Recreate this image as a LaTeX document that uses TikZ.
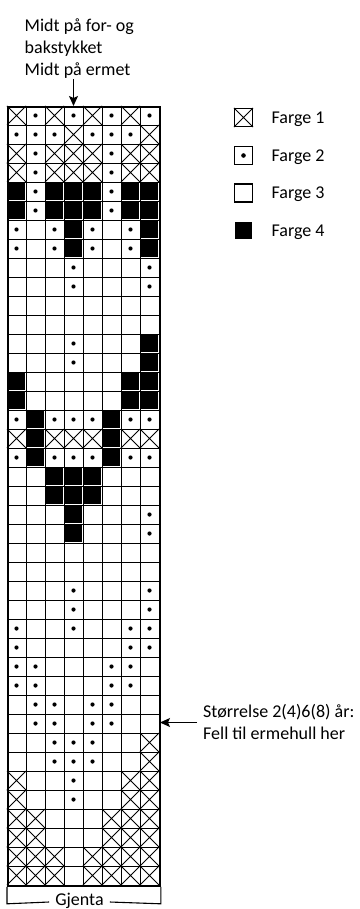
\documentclass[tikz,border=0pt]{standalone}
\usepackage{fontspec}
\setmainfont{Carlito}
\usetikzlibrary{arrows.meta}
\begin{document}
\begin{tikzpicture}[x=1pt,y=-1pt,
  txt/.style={font=\fontsize{18pt}{21.7pt}\selectfont, inner sep=0pt},
  gridline/.style={line width=0.9pt},
  xline/.style={line width=0.9pt},
  legbox/.style={draw, line width=1.1pt, minimum size=18pt, inner sep=0pt},
  legfill/.style={fill=black, minimum size=16.5pt, inner sep=0pt},
  arr/.style={line width=1.2pt, -{Stealth[length=10pt,width=9pt,inset=2pt]}},
  brk/.style={line width=1.1pt}]
\useasboundingbox (0,0) rectangle (359,909);
% grid lines
\foreach \j in {1,...,7} \draw[gridline] ({7+19*\j},106) -- ({7+19*\j},885);
\foreach \i in {1,...,40} \draw[gridline] (7,{106+19*\i}) -- (159,{106+19*\i});
% cells
\foreach \row [count=\i] in {
{X,D,X,D,X,D,X,D},
{D,D,D,X,D,D,D,X},
{X,D,X,X,X,D,X,X},
{X,D,X,X,X,D,X,X},
{B,D,B,B,B,D,B,B},
{B,D,B,B,B,D,B,B},
{D,O,D,B,D,O,D,B},
{D,O,D,B,D,O,D,B},
{O,O,O,D,O,O,O,D},
{O,O,O,D,O,O,O,D},
{O,O,O,O,O,O,O,O},
{O,O,O,O,O,O,O,O},
{O,O,O,D,O,O,O,B},
{O,O,O,D,O,O,O,B},
{B,O,O,O,O,O,B,B},
{B,O,O,O,O,O,B,B},
{D,B,D,D,D,B,D,D},
{X,B,X,X,X,B,X,X},
{D,B,D,D,D,B,D,D},
{O,O,B,B,B,O,O,O},
{O,O,B,B,B,O,O,O},
{O,O,O,B,O,O,O,D},
{O,O,O,B,O,O,O,D},
{O,O,O,O,O,O,O,O},
{O,O,O,O,O,O,O,O},
{O,O,O,D,O,O,O,D},
{O,O,O,D,O,O,O,D},
{D,O,O,D,O,O,D,D},
{D,O,O,O,O,O,D,D},
{D,D,O,O,O,D,D,O},
{D,D,O,O,O,D,D,O},
{O,D,D,O,D,D,O,O},
{O,D,D,O,D,D,O,O},
{O,O,D,D,D,O,O,X},
{O,O,D,D,D,O,O,X},
{X,O,O,D,O,O,X,X},
{X,O,O,D,O,O,X,X},
{X,X,O,O,O,X,X,X},
{X,X,O,O,O,X,X,X},
{X,X,X,O,X,X,X,X},
{X,X,X,O,X,X,X,X}}{
  \foreach \cl [count=\j] in \row {
    \pgfmathsetmacro\cx{19*\j-2.5}
    \pgfmathsetmacro\cy{19*\i+96.5}
    \if B\cl \fill[black] (\cx,\cy) ++(-8.7,-8.7) rectangle ++(17.4,17.4); \fi
    \if X\cl \draw[xline] (\cx,\cy) ++(-9.5,-9.5) -- ++(19,19) ++(0,-19) -- ++(-19,19); \fi
    \if D\cl \fill (\cx,\cy) circle[radius=2.1pt]; \fi
  }
}
% outer border
\node[draw, line width=1.8pt, minimum width=152pt, minimum height=779pt, inner sep=0pt, anchor=north west] (grid) at (7,106) {};
% top label
\node[txt, anchor=base west] (t1) at (24.5,31.7) {Midt på for- og};
\node[txt, anchor=base west] (t2) at (24.5,53.4) {bakstykket};
\node[txt, anchor=base west] (t3) at (24.5,75.1) {Midt på ermet};
\coordinate (topstart) at (73.5,79);
\coordinate (topend) at (73.5,106);
\draw[arr] (topstart) -- (topend);
% legend
\node[legbox] (k1) at (243.5,117.5) {};
\draw[xline] (k1.north west) -- (k1.south east) (k1.south west) -- (k1.north east);
\node[legbox] (k2) at (243.5,155.5) {};
\fill (k2.center) circle[radius=2.3pt];
\node[legbox] (k3) at (243.5,193) {};
\node[legfill] (k4) at (243.5,230.5) {};
\node[txt, anchor=base west] (f1) at (271.5,123.3) {Farge 1};
\node[txt, anchor=base west] (f2) at (271.5,161.3) {Farge 2};
\node[txt, anchor=base west] (f3) at (271.5,198.8) {Farge 3};
\node[txt, anchor=base west] (f4) at (271.5,236.3) {Farge 4};
% right annotation
\node[txt, anchor=base west] (s1) at (203,717) {Størrelse 2(4)6(8) år:};
\node[txt, anchor=base west] (s2) at (203,739.5) {Fell til ermehull her};
\coordinate (rstart) at (197,722.5);
\coordinate (rend) at (160,722.5);
\draw[arr] (rstart) -- (rend);
% repeat bracket
\node[txt, anchor=base] (gj) at (79.5,905) {Gjenta};
\draw[brk] (grid.south west) -- ++(0,17) -- ([xshift=-6pt]gj.west |- 0,902);
\draw[brk] (grid.south east) -- ++(0,17) -- ([xshift=6pt]gj.east |- 0,902);
\end{tikzpicture}
\end{document}
